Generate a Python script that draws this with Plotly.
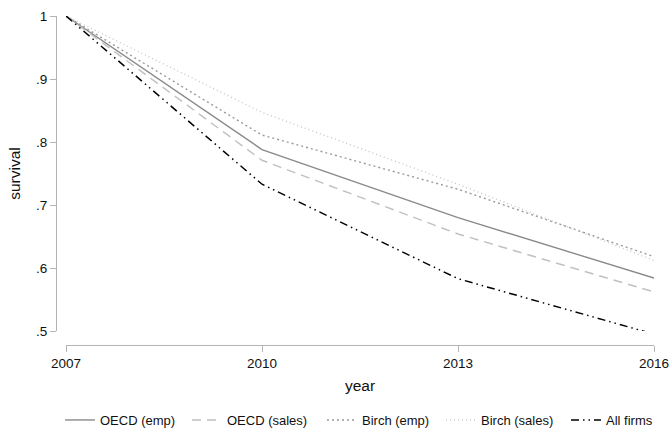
import plotly.graph_objects as go

years = [2007, 2010, 2013, 2016]
oecd_emp = [1.0, 0.788, 0.680, 0.584]
oecd_sales = [1.0, 0.771, 0.654, 0.562]
birch_emp = [1.0, 0.811, 0.725, 0.618]
birch_sales = [1.0, 0.847, 0.733, 0.612]
all_firms = [1.0, 0.733, 0.583, 0.495]

y_tickvals = [0.5, 0.6, 0.7, 0.8, 0.9, 1.0]
y_ticktext = [".5", ".6", ".7", ".8", ".9", "1"]
x_tickvals = [2007, 2010, 2013, 2016]

W, H = 672, 429
FONT = "Liberation Sans, Arial, Helvetica, sans-serif"
AXC = "#b4b4b4"

series = [
    ("OECD (emp)", oecd_emp, "#8a8a8a", "solid", 1.4),
    ("OECD (sales)", oecd_sales, "#c0c0c0", "9px,6px", 1.4),
    ("Birch (emp)", birch_emp, "#9a9a9a", "2px,3px", 1.4),
    ("Birch (sales)", birch_sales, "#c4c4c4", "1px,3px", 1.3),
    ("All firms", all_firms, "#000000", "8px,4px,1.5px,4px,1.5px,4px", 1.5),
]
legend_x = [60, 187, 322, 441, 566]

fig = go.Figure()
layout_legends = {}
for i, (name, vals, col, dash, w) in enumerate(series):
    key = "legend" if i == 0 else f"legend{i + 1}"
    fig.add_trace(go.Scatter(x=years, y=vals, mode="lines", name=name,
                             line=dict(color=col, dash=dash, width=w), legend=key))
    layout_legends[key] = dict(orientation="h", x=legend_x[i] / W, xanchor="left",
                               y=1 - 420 / H, yanchor="middle", font=dict(size=13),
                               bgcolor="rgba(0,0,0,0)")

fig.update_layout(
    width=W, height=H,
    margin=dict(l=0, r=0, t=0, b=0, autoexpand=False),
    paper_bgcolor="white", plot_bgcolor="white",
    font=dict(family=FONT, size=13.5, color="#111111"),
    showlegend=True,
    xaxis=dict(domain=[66 / W, 654 / W], range=[2007, 2016], anchor="free",
               position=1 - 345 / H, showline=True, linecolor=AXC, linewidth=1,
               ticks="outside", ticklen=6, tickcolor=AXC, tickvals=x_tickvals,
               showgrid=False, zeroline=False, automargin=False,
               title=dict(text="year", font=dict(size=15.5), standoff=9)),
    yaxis=dict(domain=[1 - 331 / H, 1 - 16 / H], range=[0.5, 1], anchor="free",
               position=56 / W, showline=True, linecolor=AXC, linewidth=1,
               ticks="outside", ticklen=6, tickcolor=AXC, tickvals=y_tickvals,
               ticktext=y_ticktext, showgrid=False, zeroline=False, automargin=False,
               title=dict(text="survival", font=dict(size=15.5), standoff=10)),
    **layout_legends,
)

fig.write_html("out.html")
